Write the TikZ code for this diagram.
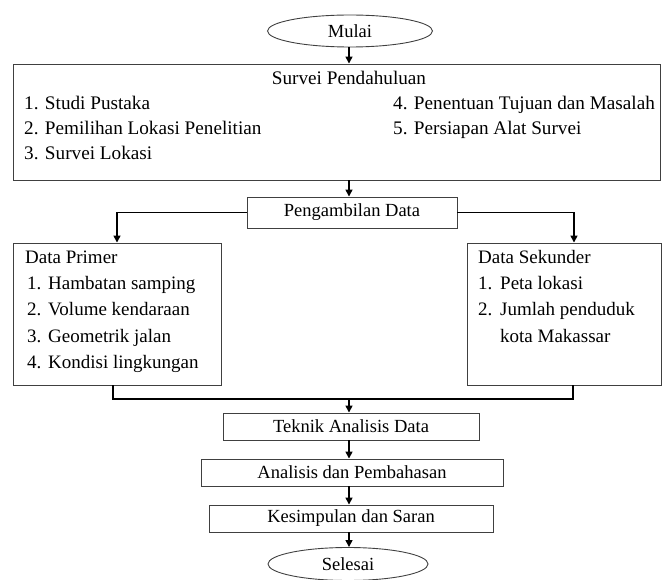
\documentclass[tikz,border=0pt]{standalone}
\usepackage{fontspec}
\setmainfont{Liberation Serif}
\usetikzlibrary{arrows.meta,shapes.geometric}
\begin{document}
\begin{tikzpicture}[x=1pt,y=-1pt,
  box/.style={draw=black!75,line width=0.9pt,fill=white},
  oval/.style={ellipse,draw=black!75,line width=0.9pt,inner sep=0pt},
  conn/.style={line width=1.5pt,black},
  arr/.style={conn,-{Triangle[length=7pt,width=7pt]}},
  txt/.style={inner sep=0pt,anchor=base west},
  fa/.style={font=\fontsize{19.2}{22}\selectfont},
  fb/.style={font=\fontsize{19}{22}\selectfont},
  fc/.style={font=\fontsize{18.5}{22}\selectfont}]
\useasboundingbox (0,0) rectangle (662,580);
% start
\node[oval,fc,minimum width=165pt,minimum height=32pt] (mulai) at (350,31) {Mulai};
% survei pendahuluan
\node[box,minimum width=647pt,minimum height=116pt] (survei) at (336.5,122) {};
\node[fa,inner sep=0pt,anchor=base] (st) at (349,85) {Survei Pendahuluan};
\node[txt,fa] (s1) at (24,110) {1. Studi Pustaka};
\node[txt,fa] (s2) at (24,135) {2. Pemilihan Lokasi Penelitian};
\node[txt,fa] (s3) at (24,160) {3. Survei Lokasi};
\node[txt,fa] (s4) at (393,110) {4. Penentuan Tujuan dan Masalah};
\node[txt,fa] (s5) at (393,135) {5. Persiapan Alat Survei};
% pengambilan data
\node[box,fc,minimum width=210pt,minimum height=31pt] (ambil) at (352,212.5) {Pengambilan Data};
% data primer
\node[box,minimum width=208pt,minimum height=142pt] (primer) at (117,314) {};
\node[txt,fb] (p0) at (25,264) {Data Primer};
\node[txt,fb] (p1n) at (27,290) {1.};
\node[txt,fb] (p1) at (48,290) {Hambatan samping};
\node[txt,fb] (p2n) at (27,316) {2.};
\node[txt,fb] (p2) at (48,316) {Volume kendaraan};
\node[txt,fb] (p3n) at (27,343) {3.};
\node[txt,fb] (p3) at (48,343) {Geometrik jalan};
\node[txt,fb] (p4n) at (27,369) {4.};
\node[txt,fb] (p4) at (48,369) {Kondisi lingkungan};
% data sekunder
\node[box,minimum width=194pt,minimum height=142pt] (sekunder) at (564,314) {};
\node[txt,fb] (d0) at (478,264) {Data Sekunder};
\node[txt,fb] (d1n) at (478,290) {1.};
\node[txt,fb] (d1) at (500,290) {Peta lokasi};
\node[txt,fb] (d2n) at (478,316) {2.};
\node[txt,fb] (d2) at (500,316) {Jumlah penduduk};
\node[txt,fb] (d3) at (500,343) {kota Makassar};
% lower chain
\node[box,fc,minimum width=256pt,minimum height=27pt] (teknik) at (351,426.5) {Teknik Analisis Data};
\node[box,fc,minimum width=302pt,minimum height=27pt] (analisis) at (352,472.5) {Analisis dan Pembahasan};
\node[box,fc,minimum width=284pt,minimum height=27pt] (kesimpulan) at (351,518.5) {Kesimpulan dan Saran};
\node[oval,fc,minimum width=160pt,minimum height=33pt] (selesai) at (348,564) {Selesai};
% coordinates
\coordinate (jl) at (117,212.5);
\coordinate (jr) at (574,212.5);
\coordinate (bl) at (113,399);
\coordinate (br) at (573,399);
\coordinate (bm) at (349,399);
% connectors
\draw[arr] (mulai.south -| 349,0) -- (survei.north -| 349,0);
\draw[arr] (survei.south -| 349,0) -- (ambil.north -| 349,0);
\draw[arr] (ambil.west) -- (jl) -- (primer.north -| jl);
\draw[arr] (ambil.east) -- (jr) -- (sekunder.north -| jr);
\draw[conn] (primer.south -| bl) -- (bl) -- (br) -- (sekunder.south -| br);
\draw[arr] (bm) -- (teknik.north -| bm);
\draw[arr] (teknik.south -| bm) -- (analisis.north -| bm);
\draw[arr] (analisis.south -| bm) -- (kesimpulan.north -| bm);
\draw[arr] (kesimpulan.south -| bm) -- (selesai.north -| bm);
\end{tikzpicture}
\end{document}
